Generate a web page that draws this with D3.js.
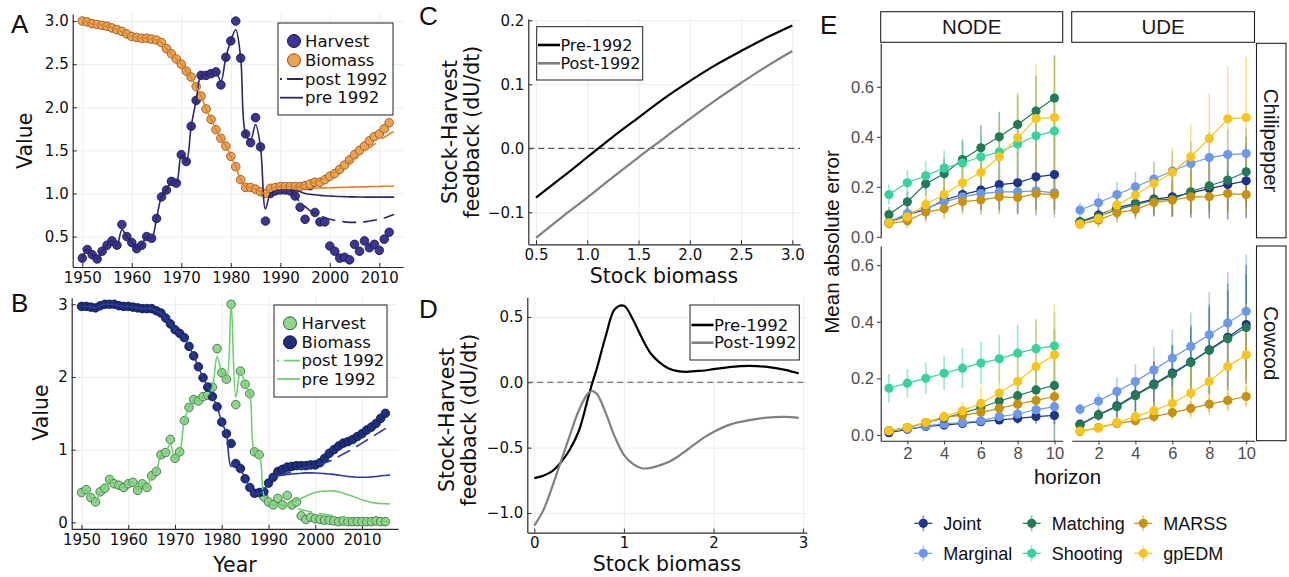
<!DOCTYPE html>
<html><head><meta charset="utf-8">
<script src="https://cdn.jsdelivr.net/npm/d3@7"></script>
<style>body{margin:0;background:#fff}svg{display:block}</style>
</head><body><svg id="c" width="1289" height="577"></svg>
<script>
// ---------------- DATA ----------------
// Panel A (start year 1950)
const yearStartA = 1950;
const harvestA = [0.25,0.35,0.29,0.24,0.33,0.40,0.45,0.40,0.64,0.50,
  0.43,0.36,0.40,0.50,0.48,0.71,0.96,1.04,1.14,1.12,
  1.45,1.37,1.78,2.08,2.37,2.37,2.39,2.41,2.26,2.58,
  2.77,3.00,2.57,1.69,1.59,1.88,1.54,0.68,1.00,1.03,
  1.04,1.04,1.03,0.97,0.84,0.70,1.09,0.78,0.67,0.67,
  0.39,0.33,0.25,0.26,0.23,0.41,0.33,0.45,0.37,0.41,
  0.34,0.47,0.55];
const biomassA = [3.00,2.99,2.97,2.96,2.95,2.94,2.92,2.90,2.88,2.85,
  2.82,2.81,2.80,2.80,2.79,2.78,2.75,2.68,2.62,2.56,
  2.50,2.42,2.35,2.24,2.13,1.98,1.86,1.74,1.64,1.55,
  1.43,1.31,1.16,1.07,1.07,1.05,1.02,1.00,1.06,1.07,
  1.08,1.08,1.08,1.08,1.08,1.09,1.11,1.13,1.13,1.16,
  1.20,1.23,1.28,1.33,1.39,1.45,1.50,1.55,1.61,1.66,
  1.69,1.75,1.82];
const fitHarvestA = [0.25,0.35,0.29,0.24,0.33,0.40,0.45,0.40,0.58,0.50,
  0.43,0.36,0.40,0.50,0.48,0.71,0.96,1.04,1.14,1.12,
  1.45,1.37,1.78,2.08,2.37,2.37,2.39,2.41,2.30,2.58,
  2.77,2.90,2.57,1.69,1.62,1.80,1.54,0.82,1.00,1.03,
  1.04,1.04,1.04];                       // 1950-1992
const fitBiomassA = [3.00,2.99,2.97,2.96,2.95,2.94,2.92,2.90,2.88,2.85,
  2.82,2.81,2.80,2.80,2.79,2.78,2.75,2.68,2.62,2.56,
  2.50,2.42,2.35,2.24,2.13,1.98,1.86,1.74,1.64,1.55,
  1.43,1.31,1.16,1.08,1.07,1.05,1.02,1.00,1.05,1.07,
  1.08,1.08,1.08];                       // 1950-1992
const preStartA = 1993;
const preHarvestA = [1.035,1.02,1.00,0.99,0.985,0.978,0.973,0.97,0.967,0.965,0.963,0.961,0.96,0.959,0.958,0.957,0.957,0.957,0.957,0.957,0.957];
const preBiomassA = [1.07,1.065,1.062,1.062,1.063,1.064,1.065,1.067,1.068,1.07,1.071,1.073,1.074,1.076,1.077,1.079,1.08,1.081,1.083,1.084,1.085];
const postStartA = 1992;
const postHarvestA = [1.04,0.97,0.90,0.85,0.80,0.77,0.74,0.72,0.70,0.69,0.68,0.67,0.665,0.665,0.665,0.67,0.68,0.69,0.70,0.715,0.735,0.76];
const postBiomassA = [1.08,1.08,1.09,1.10,1.11,1.13,1.15,1.18,1.21,1.25,1.29,1.33,1.37,1.41,1.45,1.49,1.53,1.57,1.61,1.65,1.69,1.72];

// Panel B (start year 1950)
const yearStartB = 1950;
const harvestB = [0.41,0.45,0.34,0.28,0.42,0.47,0.59,0.53,0.51,0.48,
  0.53,0.55,0.44,0.53,0.48,0.64,0.70,0.93,0.96,1.14,
  0.88,0.97,1.40,1.58,1.69,1.67,1.73,1.75,1.86,2.39,
  2.06,1.97,3.00,1.62,2.08,1.90,1.77,0.97,0.93,0.35,
  0.28,0.24,0.33,0.24,0.37,0.24,0.28,0.09,0.04,0.07,
  0.05,0.04,0.03,0.03,0.02,0.01,0.02,0.01,0.01,0.01,
  0.01,0.01,0.01,0.02,0.01,0.01];
const biomassB = [2.97,2.97,2.96,2.95,2.98,3.00,3.00,3.00,2.98,2.97,
  2.97,2.96,2.95,2.94,2.94,2.94,2.91,2.88,2.81,2.73,
  2.65,2.60,2.54,2.42,2.29,2.14,1.99,1.86,1.73,1.59,
  1.38,1.22,1.085,0.81,0.74,0.60,0.48,0.40,0.41,0.42,
  0.54,0.62,0.70,0.73,0.76,0.77,0.78,0.78,0.78,0.79,
  0.79,0.82,0.88,0.95,1.00,1.05,1.09,1.11,1.14,1.18,
  1.22,1.27,1.31,1.36,1.43,1.50];
const fitHarvestB = [0.41,0.45,0.34,0.28,0.42,0.47,0.59,0.53,0.51,0.48,
  0.53,0.55,0.44,0.53,0.48,0.64,0.70,0.93,0.96,1.08,
  0.88,0.97,1.40,1.58,1.69,1.67,1.73,1.75,1.86,2.28,
  2.06,1.97,3.00,1.72,2.08,1.90,1.77,0.97,0.93,0.37,
  0.27,0.24];                            // 1950-1991
const fitBiomassB = [2.97,2.97,2.96,2.95,2.98,3.00,3.00,3.00,2.98,2.97,
  2.97,2.96,2.95,2.94,2.94,2.94,2.91,2.88,2.81,2.73,
  2.65,2.60,2.54,2.42,2.29,2.14,1.99,1.86,1.73,1.59,
  1.38,1.22,0.77,0.80,0.72,0.62,0.48,0.40,0.40,0.45,
  0.55,0.63];                            // 1950-1991
const forecastStartB = 1992;
const preHarvestB = [0.24,0.24,0.25,0.27,0.30,0.33,0.36,0.39,0.41,0.425,0.43,0.435,0.43,0.42,0.40,0.38,0.36,0.335,0.31,0.29,0.275,0.265,0.26,0.255,0.255];
const preBiomassB = [0.64,0.65,0.66,0.665,0.67,0.675,0.68,0.68,0.678,0.675,0.67,0.665,0.66,0.65,0.64,0.63,0.625,0.62,0.62,0.62,0.625,0.63,0.64,0.645,0.65];
const postHarvestB = [0.24,0.23,0.22,0.205,0.19,0.175,0.16,0.145,0.13,0.12,0.11,0.10,0.09,0.078,0.065,0.055,0.045,0.037,0.03,0.025,0.02,0.017,0.015,0.012,0.01];
const postBiomassB = [0.64,0.66,0.68,0.70,0.72,0.74,0.755,0.77,0.785,0.80,0.815,0.84,0.87,0.905,0.94,0.975,1.01,1.05,1.09,1.13,1.17,1.21,1.25,1.29,1.33];

// Panel C
const stockC = [0.5,0.75,1.0,1.25,1.5,1.75,2.0,2.25,2.5,2.75,3.0];
const preC  = [-0.077,-0.046,-0.014,0.018,0.048,0.078,0.105,0.130,0.152,0.173,0.192];
const postC = [-0.140,-0.108,-0.077,-0.045,-0.014,0.016,0.046,0.075,0.102,0.128,0.152];

// Panel D
const stockD = [0,0.1,0.2,0.3,0.4,0.5,0.6,0.65,0.7,0.8,0.9,1.0,1.1,1.2,1.3,1.4,1.5,1.6,1.7,1.8,1.9,2.0,2.2,2.4,2.6,2.8,2.95];
const preD  = [-0.733,-0.715,-0.68,-0.61,-0.51,-0.367,-0.12,0.0,0.11,0.36,0.56,0.585,0.48,0.34,0.22,0.15,0.105,0.085,0.08,0.085,0.09,0.10,0.118,0.125,0.118,0.095,0.068];
const postD = [-1.097,-0.98,-0.80,-0.60,-0.40,-0.21,-0.085,-0.067,-0.09,-0.24,-0.42,-0.555,-0.625,-0.658,-0.655,-0.635,-0.61,-0.57,-0.52,-0.47,-0.42,-0.38,-0.32,-0.29,-0.27,-0.265,-0.272];

// Panel E
const horizon = [1,2,3,4,5,6,7,8,9,10];
const methods = ['Joint','Marginal','Matching','Shooting','MARSS','gpEDM'];
const methodColors = ['#1f3487','#6b98ea','#237a57','#36d49a','#c8920c','#f7c51b'];
const models = ['NODE','UDE'];
const stocks = ['Chilipepper','Cowcod'];
const yTicksE = [0,0.2,0.4,0.6];
const xTicksE = [2,4,6,8,10];
const chiliNodeMean = [
  [0.056,0.087,0.109,0.147,0.169,0.187,0.209,0.216,0.240,0.249],
  [0.060,0.093,0.113,0.140,0.160,0.173,0.180,0.180,0.184,0.176],
  [0.089,0.140,0.212,0.252,0.309,0.356,0.400,0.449,0.503,0.555],
  [0.169,0.216,0.244,0.275,0.295,0.320,0.339,0.371,0.404,0.423],
  [0.053,0.064,0.099,0.112,0.141,0.147,0.160,0.157,0.173,0.169],
  [0.056,0.080,0.129,0.169,0.216,0.257,0.320,0.396,0.473,0.477]];
const chiliNodeErr = [
  [0.02,0.03,0.04,0.05,0.06,0.08,0.10,0.12,0.13,0.14],
  [0.02,0.03,0.04,0.05,0.06,0.07,0.08,0.09,0.10,0.10],
  [0.03,0.04,0.05,0.06,0.08,0.09,0.10,0.12,0.14,0.17],
  [0.04,0.05,0.06,0.07,0.08,0.09,0.10,0.11,0.12,0.13],
  [0.02,0.03,0.04,0.04,0.05,0.06,0.07,0.07,0.08,0.08],
  [0.02,0.03,0.05,0.06,0.08,0.10,0.13,0.18,0.22,0.24]];
const chiliUdeMean = [
  [0.060,0.087,0.117,0.133,0.151,0.160,0.176,0.193,0.209,0.224],
  [0.107,0.136,0.169,0.200,0.231,0.263,0.293,0.317,0.329,0.333],
  [0.060,0.080,0.109,0.129,0.147,0.151,0.180,0.204,0.227,0.260],
  null,
  [0.051,0.067,0.096,0.109,0.137,0.147,0.160,0.160,0.173,0.169],
  [0.051,0.073,0.127,0.167,0.213,0.257,0.320,0.393,0.472,0.477]];
const chiliUdeErr = [
  [0.02,0.03,0.04,0.05,0.07,0.08,0.10,0.12,0.14,0.15],
  [0.03,0.04,0.05,0.06,0.07,0.08,0.09,0.10,0.10,0.10],
  [0.02,0.03,0.04,0.05,0.06,0.07,0.09,0.10,0.12,0.14],
  null,
  [0.02,0.03,0.04,0.04,0.05,0.06,0.07,0.07,0.08,0.08],
  [0.02,0.03,0.05,0.06,0.08,0.10,0.13,0.18,0.21,0.24]];
const cowNodeMean = [
  [0.008,0.020,0.030,0.035,0.041,0.047,0.053,0.059,0.065,0.069],
  [0.015,0.021,0.032,0.039,0.044,0.050,0.065,0.074,0.089,0.100],
  [0.015,0.026,0.044,0.059,0.077,0.097,0.120,0.139,0.159,0.175],
  [0.165,0.183,0.200,0.218,0.236,0.254,0.269,0.289,0.305,0.315],
  [0.015,0.024,0.044,0.063,0.069,0.080,0.094,0.109,0.122,0.136],
  [0.015,0.026,0.045,0.065,0.086,0.112,0.148,0.189,0.242,0.283]];
const cowNodeErr = [
  [0.005,0.005,0.01,0.01,0.01,0.015,0.015,0.02,0.025,0.03],
  [0.005,0.01,0.01,0.01,0.015,0.015,0.02,0.025,0.03,0.035],
  [0.005,0.01,0.015,0.02,0.025,0.03,0.04,0.06,0.10,0.20],
  [0.05,0.05,0.055,0.06,0.07,0.075,0.085,0.10,0.105,0.12],
  [0.005,0.01,0.01,0.015,0.02,0.02,0.025,0.03,0.03,0.035],
  [0.01,0.01,0.015,0.02,0.03,0.06,0.09,0.12,0.16,0.18]];
const cowUdeMean = [
  [0.038,0.071,0.103,0.142,0.180,0.219,0.258,0.301,0.345,0.390],
  [0.091,0.120,0.154,0.189,0.230,0.272,0.313,0.354,0.396,0.437],
  [0.035,0.071,0.100,0.139,0.177,0.215,0.256,0.299,0.340,0.380],
  null,
  [0.012,0.026,0.041,0.050,0.065,0.079,0.094,0.109,0.122,0.136],
  [0.014,0.024,0.044,0.065,0.086,0.112,0.148,0.189,0.242,0.283]];
const cowUdeErr = [
  [0.01,0.02,0.04,0.06,0.08,0.10,0.13,0.16,0.19,0.21],
  [0.02,0.03,0.05,0.06,0.08,0.10,0.12,0.15,0.18,0.20],
  [0.01,0.02,0.04,0.06,0.08,0.10,0.12,0.15,0.17,0.19],
  null,
  [0.005,0.01,0.01,0.015,0.02,0.02,0.025,0.03,0.03,0.035],
  [0.01,0.01,0.015,0.02,0.03,0.06,0.09,0.12,0.16,0.18]];

// ---------------- DRAWING ----------------
const svg = d3.select('#c');
const FJ = "'DejaVu Sans', sans-serif";
const FE = "'Liberation Sans', Arial, sans-serif";
const toPts = (start, arr) => arr.map((v,i)=>[start+i, v]);
const zipPts = (xs, arr) => arr.map((v,i)=>[xs[i], v]);

function jPanel(o){
  const x = d3.scaleLinear().domain(o.xd).range([o.l,o.r]);
  const y = d3.scaleLinear().domain(o.yd).range([o.b,o.t]);
  const g = svg.append('g');
  const h = o.b-o.t, w = o.r-o.l;
  g.append('g').attr('transform',`translate(0,${o.b})`)
    .call(d3.axisBottom(x).tickValues(o.xt).tickSize(-h).tickFormat(''))
    .call(s=>{s.select('.domain').remove(); s.selectAll('.tick line').attr('stroke','#ececec');});
  g.append('g').attr('transform',`translate(${o.l},0)`)
    .call(d3.axisLeft(y).tickValues(o.yt).tickSize(-w).tickFormat(''))
    .call(s=>{s.select('.domain').remove(); s.selectAll('.tick line').attr('stroke','#ececec');});
  const ax = g.append('g').attr('transform',`translate(0,${o.b})`)
    .call(d3.axisBottom(x).tickValues(o.xt).tickSizeInner(-4).tickSizeOuter(0).tickPadding(5).tickFormat(o.xf));
  const ay = g.append('g').attr('transform',`translate(${o.l},0)`)
    .call(d3.axisLeft(y).tickValues(o.yt).tickSizeInner(-4).tickSizeOuter(0).tickPadding(4).tickFormat(o.yf));
  [ax,ay].forEach(a=>{
    a.select('.domain').attr('stroke','#2a2a2a').attr('stroke-width',1.2);
    a.selectAll('.tick line').attr('stroke','#2a2a2a');
    a.selectAll('text').attr('font-family',FJ).attr('font-size',15).attr('fill','#111');
  });
  return {x,y,g};
}
function drawLine(p, pts, color, width, dash){
  p.g.append('path').datum(pts)
    .attr('d', d3.line().x(d=>p.x(d[0])).y(d=>p.y(d[1])).curve(d3.curveCatmullRom))
    .attr('fill','none').attr('stroke',color).attr('stroke-width',width)
    .attr('stroke-dasharray', dash || null).attr('stroke-linejoin','round');
}
function drawDots(p, pts, fill, stroke){
  p.g.append('g').selectAll('circle').data(pts.filter(d=>d[1]!=null)).join('circle')
    .attr('cx',d=>p.x(d[0])).attr('cy',d=>p.y(d[1])).attr('r',4.3)
    .attr('fill',fill).attr('stroke',stroke).attr('stroke-width',0.8);
}
function txt(x,y,s,size,font,opt){
  opt = opt||{};
  const t = svg.append('text').attr('x',x).attr('y',y).text(s)
    .attr('font-size',size).attr('font-family',font).attr('fill',opt.fill||'#111')
    .attr('text-anchor',opt.anchor||'start');
  if (opt.dy) t.attr('dy',opt.dy);
  if (opt.rot) t.attr('transform',`rotate(${opt.rot},${x},${y})`);
  return t;
}
function jLegend(x,y,w,h){
  svg.append('rect').attr('x',x).attr('y',y).attr('width',w).attr('height',h)
    .attr('fill','#fff').attr('stroke','#222').attr('stroke-width',1);
}

// ---- Panel A ----
const cNavyA='#3a3596', cNavyLineA='#2b286c', cOrA='#f1a24f', cOrLineA='#e0832a';
const pA = jPanel({l:72.7,r:403.3,t:13.9,b:267,xd:[1948.06,2014.85],yd:[0.147,3.083],
  xt:[1950,1960,1970,1980,1990,2000,2010],yt:[0.5,1.0,1.5,2.0,2.5,3.0],
  xf:d3.format('d'),yf:d3.format('.1f')});
drawDots(pA, toPts(yearStartA, harvestA), cNavyA, '#16163a');
drawDots(pA, toPts(yearStartA, biomassA), cOrA, '#7a5020');
drawLine(pA, toPts(postStartA, postHarvestA), cNavyLineA, 1.6, '14,7');
drawLine(pA, toPts(postStartA, postBiomassA), cOrLineA, 1.6, '14,7');
drawLine(pA, toPts(yearStartA, fitHarvestA).concat(toPts(preStartA, preHarvestA)), cNavyLineA, 1.6);
drawLine(pA, toPts(yearStartA, fitBiomassA).concat(toPts(preStartA, preBiomassA)), cOrLineA, 1.6);
jLegend(278,23,115,92);
svg.append('circle').attr('cx',294).attr('cy',41).attr('r',6.5).attr('fill',cNavyA).attr('stroke','#16163a');
svg.append('circle').attr('cx',294).attr('cy',60.3).attr('r',6.5).attr('fill',cOrA).attr('stroke','#7a5020');
svg.append('line').attr('x1',280).attr('x2',303).attr('y1',79).attr('y2',79).attr('stroke',cNavyLineA).attr('stroke-width',1.8).attr('stroke-dasharray','2,5,16');
svg.append('line').attr('x1',280).attr('x2',303).attr('y1',97.7).attr('y2',97.7).attr('stroke',cNavyLineA).attr('stroke-width',1.8);
[['Harvest',41],['Biomass',60.3],['post 1992',79],['pre 1992',97.7]].forEach(d=>txt(305,d[1],d[0],16.5,FJ,{dy:'0.35em'}));
txt(11,33.3,'A',26,FE);
txt(25,140.8,'Value',20.5,FJ,{anchor:'middle',dy:'0.35em',rot:-90});

// ---- Panel B ----
const cNavyB='#1e2f80', cNavyLineB='#2a3c9c', cGrB='#8fd68f', cGrLineB='#6fcf6f';
const pB = jPanel({l:71.7,r:398,t:297.7,b:528.9,xd:[1947.9,2017.7],yd:[-0.09,3.09],
  xt:[1950,1960,1970,1980,1990,2000,2010],yt:[0,1,2,3],
  xf:d3.format('d'),yf:d3.format('d')});
drawDots(pB, toPts(yearStartB, harvestB), cGrB, '#3b5f3b');
drawDots(pB, toPts(yearStartB, biomassB), cNavyB, '#0e1638');
drawLine(pB, toPts(forecastStartB, postHarvestB), cGrLineB, 1.6, '14,7');
drawLine(pB, toPts(forecastStartB, postBiomassB), cNavyLineB, 1.6, '14,7');
drawLine(pB, toPts(yearStartB, fitHarvestB).concat(toPts(forecastStartB, preHarvestB)), cGrLineB, 1.6);
drawLine(pB, toPts(yearStartB, fitBiomassB).concat(toPts(forecastStartB, preBiomassB)), cNavyLineB, 1.6);
jLegend(274,305,113,92);
svg.append('circle').attr('cx',290).attr('cy',323.3).attr('r',6.5).attr('fill',cGrB).attr('stroke','#3b5f3b');
svg.append('circle').attr('cx',290).attr('cy',342.3).attr('r',6.5).attr('fill',cNavyB).attr('stroke','#0e1638');
svg.append('line').attr('x1',277).attr('x2',300).attr('y1',360.7).attr('y2',360.7).attr('stroke',cGrLineB).attr('stroke-width',1.8).attr('stroke-dasharray','2,5,16');
svg.append('line').attr('x1',277).attr('x2',300).attr('y1',379).attr('y2',379).attr('stroke',cGrLineB).attr('stroke-width',1.8);
[['Harvest',323.3],['Biomass',342.3],['post 1992',360.7],['pre 1992',379]].forEach(d=>txt(301.5,d[1],d[0],16.5,FJ,{dy:'0.35em'}));
txt(11,311.7,'B',26,FE);
txt(41,412.5,'Value',20.5,FJ,{anchor:'middle',dy:'0.35em',rot:-90});
txt(235,571.5,'Year',20.5,FJ,{anchor:'middle'});

// ---- Panel C ----
const pC = jPanel({l:528.3,r:800,t:19,b:244.3,xd:[0.425,3.075],yd:[-0.15,0.202],
  xt:[0.5,1.0,1.5,2.0,2.5,3.0],yt:[-0.1,0.0,0.1,0.2],
  xf:d3.format('.1f'),yf:d3.format('.1f')});
pC.g.append('line').attr('x1',pC.x(0.425)).attr('x2',pC.x(3.075)).attr('y1',pC.y(0)).attr('y2',pC.y(0))
  .attr('stroke','#555').attr('stroke-width',1.2).attr('stroke-dasharray','6,4');
drawLine(pC, zipPts(stockC, preC), '#000', 2.2);
drawLine(pC, zipPts(stockC, postC), '#808080', 2.2);
jLegend(536.7,26.7,106,53.3);
svg.append('line').attr('x1',538).attr('x2',560).attr('y1',45).attr('y2',45).attr('stroke','#000').attr('stroke-width',2.6);
svg.append('line').attr('x1',538).attr('x2',560).attr('y1',63.3).attr('y2',63.3).attr('stroke','#808080').attr('stroke-width',2.6);
txt(560.5,45,'Pre-1992',16,FJ,{dy:'0.35em'});
txt(560.5,63.3,'Post-1992',16,FJ,{dy:'0.35em'});
txt(419,25,'C',26,FE);
txt(450,132,'Stock-Harvest',20.5,FJ,{anchor:'middle',dy:'0.35em',rot:-90});
txt(472,132,'feedback (dU/dt)',20.5,FJ,{anchor:'middle',dy:'0.35em',rot:-90});
txt(664,283,'Stock biomass',20.5,FJ,{anchor:'middle'});

// ---- Panel D ----
const pD = jPanel({l:527.3,r:806.7,t:297.3,b:532.6,xd:[-0.078,3.04],yd:[-1.15,0.65],
  xt:[0,1,2,3],yt:[-1.0,-0.5,0.0,0.5],
  xf:d3.format('d'),yf:d3.format('.1f')});
pD.g.append('line').attr('x1',pD.x(-0.078)).attr('x2',pD.x(3.04)).attr('y1',pD.y(0)).attr('y2',pD.y(0))
  .attr('stroke','#555').attr('stroke-width',1.2).attr('stroke-dasharray','6,4');
drawLine(pD, zipPts(stockD, preD), '#000', 2.2);
drawLine(pD, zipPts(stockD, postD), '#808080', 2.2);
jLegend(690,305,109.3,55);
svg.append('line').attr('x1',691.5).attr('x2',713.5).attr('y1',325).attr('y2',325).attr('stroke','#000').attr('stroke-width',2.6);
svg.append('line').attr('x1',691.5).attr('x2',713.5).attr('y1',342.7).attr('y2',342.7).attr('stroke','#808080').attr('stroke-width',2.6);
txt(714,325,'Pre-1992',16.5,FJ,{dy:'0.35em'});
txt(714,342.7,'Post-1992',16.5,FJ,{dy:'0.35em'});
txt(419,318.3,'D',26,FE);
txt(447,420,'Stock-Harvest',20.5,FJ,{anchor:'middle',dy:'0.35em',rot:-90});
txt(469,420,'feedback (dU/dt)',20.5,FJ,{anchor:'middle',dy:'0.35em',rot:-90});
txt(667,571,'Stock biomass',20.5,FJ,{anchor:'middle'});

// ---- Panel E ----
const colsE = [[880.7,1062.7],[1071.7,1254.5]];
const rowsE = [[43.3,237.8,[-0.004,0.774]],[246,440.7,[-0.0202,0.6676]]];
const meansE = [[chiliNodeMean, chiliUdeMean],[cowNodeMean, cowUdeMean]];
const errsE  = [[chiliNodeErr, chiliUdeErr],[cowNodeErr, cowUdeErr]];
let clipId = 0;
rowsE.forEach((row, ri)=>{
  colsE.forEach((col, ci)=>{
    const x = d3.scaleLinear().domain([0.55,10.45]).range(col);
    const y = d3.scaleLinear().domain(row[2]).range([row[1],row[0]]);
    const id = 'clipE'+(clipId++);
    svg.append('clipPath').attr('id',id).append('rect')
      .attr('x',col[0]).attr('y',row[0]).attr('width',col[1]-col[0]).attr('height',row[1]-row[0]);
    const g = svg.append('g').attr('clip-path',`url(#${id})`);
    const M = meansE[ri][ci], E = errsE[ri][ci];
    // error bars
    M.forEach((m,si)=>{ if(!m) return;
      g.append('g').selectAll('line').data(m).join('line')
        .attr('x1',(d,i)=>x(horizon[i])).attr('x2',(d,i)=>x(horizon[i]))
        .attr('y1',(d,i)=>y(d-E[si][i])).attr('y2',(d,i)=>y(d+E[si][i]))
        .attr('stroke',methodColors[si]).attr('stroke-opacity',0.5).attr('stroke-width',1.6);
    });
    M.forEach((m,si)=>{ if(!m) return;
      g.append('path').datum(m)
        .attr('d',d3.line().x((d,i)=>x(horizon[i])).y(d=>y(d)))
        .attr('fill','none').attr('stroke',methodColors[si]).attr('stroke-width',1.2);
    });
    M.forEach((m,si)=>{ if(!m) return;
      g.append('g').selectAll('circle').data(m).join('circle')
        .attr('cx',(d,i)=>x(horizon[i])).attr('cy',d=>y(d)).attr('r',4.6)
        .attr('fill',methodColors[si]);
    });
    if (ci===0){
      const a = svg.append('g').attr('transform',`translate(${col[0]},0)`)
        .call(d3.axisLeft(y).tickValues(yTicksE).tickSizeInner(3.7).tickSizeOuter(0).tickPadding(3).tickFormat(d3.format('.1f')));
      a.select('.domain').attr('stroke','#222').attr('stroke-width',1.1);
      a.selectAll('.tick line').attr('stroke','#333');
      a.selectAll('text').attr('font-family',FE).attr('font-size',16.5).attr('fill','#4d4d4d');
    }
    if (ri===1){
      const a = svg.append('g').attr('transform',`translate(0,${row[1]})`)
        .call(d3.axisBottom(x).tickValues(xTicksE).tickSizeInner(3.7).tickSizeOuter(0).tickPadding(3).tickFormat(d3.format('d')));
      a.select('.domain').attr('stroke','#222').attr('stroke-width',1.1);
      a.selectAll('.tick line').attr('stroke','#333');
      a.selectAll('text').attr('font-family',FE).attr('font-size',16.5).attr('fill','#4d4d4d');
    }
  });
});
// strips
colsE.forEach((col,ci)=>{
  svg.append('rect').attr('x',col[0]).attr('y',11.7).attr('width',col[1]-col[0]).attr('height',30.6)
    .attr('fill','#fff').attr('stroke','#222').attr('stroke-width',1.1);
  txt((col[0]+col[1])/2, 27, models[ci], 20.5, FE, {anchor:'middle', dy:'0.35em', fill:'#1a1a1a'});
});
rowsE.forEach((row,ri)=>{
  svg.append('rect').attr('x',1256.5).attr('y',row[0]).attr('width',29.5).attr('height',row[1]-row[0])
    .attr('fill','#fff').attr('stroke','#222').attr('stroke-width',1.1);
  txt(1271.2,(row[0]+row[1])/2, stocks[ri], 20.5, FE, {anchor:'middle', dy:'0.35em', rot:90, fill:'#1a1a1a'});
});
txt(1067.5,484,'horizon',20.5,FE,{anchor:'middle'});
txt(832,242,'Mean absolute error',20.5,FE,{anchor:'middle',dy:'0.35em',rot:-90});
txt(820,34,'E',26,FE);
// legend E
const legPos = [[923.3,523.3],[923.3,553.3],[1031.7,523.3],[1031.7,553.3],[1143.3,523.3],[1143.3,553.3]];
methods.forEach((m,i)=>{
  const [lx,ly] = legPos[i];
  svg.append('line').attr('x1',lx).attr('x2',lx).attr('y1',ly-8).attr('y2',ly+8)
    .attr('stroke',methodColors[i]).attr('stroke-opacity',0.5).attr('stroke-width',1.6);
  svg.append('line').attr('x1',lx-9).attr('x2',lx+9).attr('y1',ly).attr('y2',ly)
    .attr('stroke',methodColors[i]).attr('stroke-width',1.2);
  svg.append('circle').attr('cx',lx).attr('cy',ly).attr('r',4.6).attr('fill',methodColors[i]);
  txt(lx+20, ly, m, 18, FE, {dy:'0.35em'});
});
</script></body></html>
